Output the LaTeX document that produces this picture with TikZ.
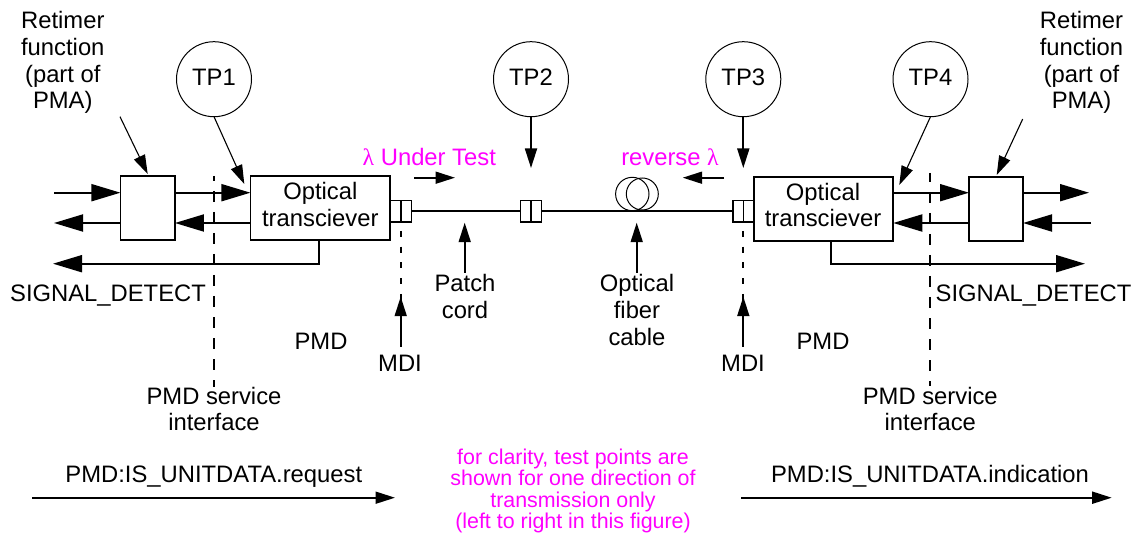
\documentclass[tikz,border=0pt]{standalone}
\usepackage{fontspec}
\setmainfont{Liberation Sans}
\newfontfamily\lamfont{Liberation Serif}
\usetikzlibrary{arrows.meta}
\definecolor{mag}{RGB}{255,0,255}
\tikzset{
  boxn/.style={draw,line width=1.7pt,inner sep=0pt,outer sep=0pt},
  conn/.style={draw,line width=1.5pt,inner sep=0pt,outer sep=0pt,minimum width=10.5pt,minimum height=21.5pt},
  tpn/.style={draw,circle,line width=1pt,minimum size=75pt,inner sep=0pt,outer sep=0pt,text depth=4.6pt,font=\fontsize{23.8}{26.7}\selectfont},
  lab/.style={font=\fontsize{23.8}{26.7}\selectfont,align=center,inner sep=0pt},
  pink/.style={font=\fontsize{21.4}{21.6}\selectfont,align=center,inner sep=0pt,text=mag},
  pinkb/.style={font=\fontsize{23.8}{26.7}\selectfont,inner sep=0pt,text=mag},
  big/.style={line width=1.9pt,-{Triangle[length=29pt,width=17pt]}},
  med/.style={line width=1.8pt,-{Triangle[length=19.5pt,width=12pt]}},
  thinp/.style={line width=1.1pt,-{Triangle[length=19pt,width=12pt]}},
  dashv/.style={line width=1.8pt,dash pattern=on 11pt off 10pt},
  dashm/.style={line width=1.9pt,dash pattern=on 6pt off 9.7pt}
}
\begin{document}
\begin{tikzpicture}[x=1pt,y=-1pt]
\useasboundingbox (0,0) rectangle (1135,537);
% dashed interfaces
\coordinate (dLt) at (214,176); \coordinate (dLb) at (214,386.7);
\coordinate (dRt) at (930,173); \coordinate (dRb) at (930,386);
\draw[dashv,dash phase=6pt] (dLt) -- (dLb);
\draw[dashv,dash phase=2pt] (dRt) -- (dRb);
% boxes
\node[boxn,minimum width=54.5pt,minimum height=64pt] (pL) at (147.7,208) {};
\node[boxn,minimum width=139.5pt,minimum height=64pt] (tL) at (320.2,208) {};
\node[boxn,minimum width=139.5pt,minimum height=64pt] (tR) at (823.5,208.8) {};
\node[boxn,minimum width=54pt,minimum height=64pt] (pR) at (996,208.8) {};
\node[lab] (tLt) at (320.3,204.4) {Optical\\transciever};
\node[lab] (tRt) at (823,204.9) {Optical\\transciever};
% connectors
\node[conn] (c1a) at (395.9,211.3) {};
\node[conn] (c1b) at (406.4,211.3) {};
\node[conn] (c2a) at (525.8,211.3) {};
\node[conn] (c2b) at (536.3,211.3) {};
\node[conn] (c3a) at (738,211.3) {};
\node[conn] (c3b) at (748.5,211.3) {};
% fibre
\draw[line width=1.8pt] (c1b.east) -- (c2a.west);
\draw[line width=1.8pt] (c2b.east) -- (c3a.west);
\node[draw,circle,line width=1pt,minimum size=33.4pt,inner sep=0pt] (f1) at (632.3,194) {};
\node[draw,circle,line width=1pt,minimum size=32pt,inner sep=0pt] (f2) at (642.3,194) {};
% test points
\node[tpn] (tp1) at (214,79.2) {TP1};
\node[tpn] (tp2) at (531,79.2) {TP2};
\node[tpn] (tp3) at (743.3,79.2) {TP3};
\node[tpn] (tp4) at (930.5,79.2) {TP4};
% free ends
\coordinate (a1) at (54,192.7); \coordinate (a2) at (54,223);
\coordinate (a3) at (53,263.7); \coordinate (a4) at (1085,263.7);
\coordinate (a5) at (1089,192.7); \coordinate (a6) at (1091,223);
\coordinate (rL) at (120,116.7); \coordinate (rR) at (1022.7,119);
\coordinate (sL) at (319.3,240); \coordinate (sR) at (830.7,241);
% signal arrows
\draw[big] (a1) -- (pL.west |- a1);
\draw[big] (pL.west |- a2) -- (a2);
\draw[big] (pL.east |- a1) -- (tL.west |- a1);
\draw[big] (tL.west |- a2) -- (pL.east |- a2);
\draw[big] (sL) |- (a3);
\draw[big] (tR.east |- a1) -- (pR.west |- a1);
\draw[big] (pR.west |- a2) -- (tR.east |- a2);
\draw[big] (pR.east |- a1) -- (a5);
\draw[big] (a6) -- (pR.east |- a2);
\draw[big] (sR) |- (a4);
% pointers
\coordinate (pLt) at (147.7,174); \coordinate (pRt) at (996.7,175);
\coordinate (tLp) at (244.3,184); \coordinate (tRp) at (899.3,185);
\coordinate (c2t) at (531,168); \coordinate (c3t) at (743.3,168);
\draw[thinp] (rL) -- (pLt);
\draw[thinp] (rR) -- (pRt);
\draw[thinp] (tp1.south) -- (tLp);
\draw[thinp] (tp4.south) -- (tRp);
\draw[med] (tp2.south) -- (c2t);
\draw[med] (tp3.south) -- (c3t);
% lambda arrows
\coordinate (l1) at (414,177.7); \coordinate (l2) at (455,177.7);
\coordinate (l3) at (724,177.7); \coordinate (l4) at (682.7,177.7);
\draw[med] (l1) -- (l2);
\draw[med] (l3) -- (l4);
% labels
\node[lab] (ret1) at (62.8,62.5) {Retimer\\function\\(part of\\PMA)};
\node[lab] (ret2) at (1081.5,62.5) {Retimer\\function\\(part of\\PMA)};
\node[pinkb] (lu) at (429.3,157) {{\lamfont λ} Under Test};
\node[pinkb] (lr) at (670,157) {reverse {\lamfont λ}};
\node[lab] (s1) at (108,296) {SIGNAL\_DETECT};
\node[lab] (s2) at (1033.5,296) {SIGNAL\_DETECT};
\node[lab] (pc) at (465,296.5) {Patch\\cord};
\node[lab] (ofc) at (637,310) {Optical\\fiber\\cable};
\node[lab] (pm1) at (321,341) {PMD};
\node[lab] (pm2) at (823,341) {PMD};
\node[lab] (mdi1) at (400,363) {MDI};
\node[lab] (mdi2) at (743,363) {MDI};
\node[lab] (ps1) at (214,409) {PMD service\\interface};
\node[lab] (ps2) at (930.3,409) {PMD service\\interface};
\node[lab] (req) at (213.8,476.5) {PMD:IS\_UNITDATA.request};
\node[lab] (ind) at (930,476.5) {PMD:IS\_UNITDATA.indication};
\node[pink] (note) at (573,491) {for clarity, test points are\\shown for one direction of\\transmission only\\(left to right in this figure)};
% arrows to labels
\coordinate (m1) at (400.7,231); \coordinate (m1b) at (400.7,300);
\coordinate (m2) at (743.3,231); \coordinate (m2b) at (743.3,300);
\draw[dashm] (m1) -- (m1b);
\draw[dashm] (m2) -- (m2b);
\coordinate (mb1) at (400.7,346.7); \coordinate (mt1) at (400.7,296.7);
\coordinate (mb2) at (743.3,346.7); \coordinate (mt2) at (743.3,296.7);
\coordinate (pb) at (464.7,273); \coordinate (pt) at (464.7,222.7);
\coordinate (ob) at (636.7,273); \coordinate (ot) at (636.7,222.7);
\draw[med] (mb1) -- (mt1);
\draw[med] (mb2) -- (mt2);
\draw[med] (pb) -- (pt);
\draw[med] (ob) -- (ot);
\coordinate (b1) at (32,497.7); \coordinate (b2) at (395,497.7);
\coordinate (b3) at (741,497.7); \coordinate (b4) at (1111.7,497.7);
\draw[med] (b1) -- (b2);
\draw[med] (b3) -- (b4);
\end{tikzpicture}
\end{document}
